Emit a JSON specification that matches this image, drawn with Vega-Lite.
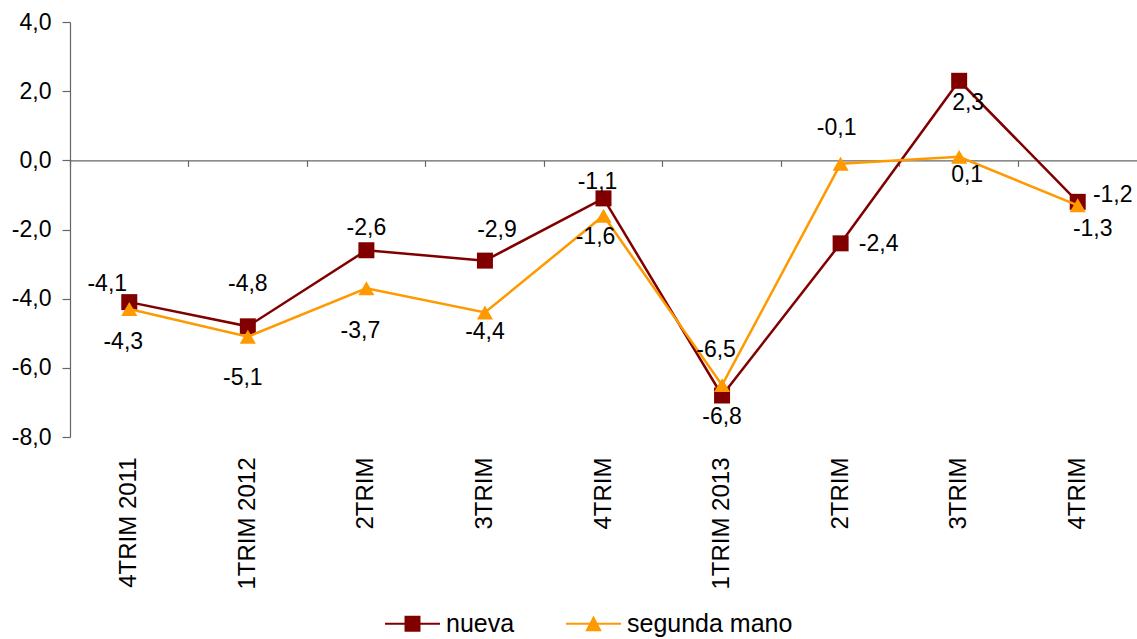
{
  "$schema": "https://vega.github.io/schema/vega-lite/v6.json",
  "width": 1067,
  "height": 415,
  "autosize": {"type": "none"},
  "padding": {"left": 70, "top": 22, "right": 0, "bottom": 202},
  "config": {
    "view": {"stroke": null},
    "font": "Liberation Sans",
    "locale": {"number": {"decimal": ",", "thousands": ".", "grouping": [3], "currency": ["", " €"], "minus": "-"}},
    "text": {"font": "Liberation Sans", "fontSize": 23, "baseline": "middle", "color": "#000000"}
  },
  "data": {
    "values": [
      {"q": "4TRIM 2011", "serie": "nueva", "v": -4.1},
      {"q": "1TRIM 2012", "serie": "nueva", "v": -4.8},
      {"q": "2TRIM 2012", "serie": "nueva", "v": -2.6},
      {"q": "3TRIM 2012", "serie": "nueva", "v": -2.9},
      {"q": "4TRIM 2012", "serie": "nueva", "v": -1.1},
      {"q": "1TRIM 2013", "serie": "nueva", "v": -6.8},
      {"q": "2TRIM 2013", "serie": "nueva", "v": -2.4},
      {"q": "3TRIM 2013", "serie": "nueva", "v": 2.3},
      {"q": "4TRIM 2013", "serie": "nueva", "v": -1.2},
      {"q": "4TRIM 2011", "serie": "segunda mano", "v": -4.3},
      {"q": "1TRIM 2012", "serie": "segunda mano", "v": -5.1},
      {"q": "2TRIM 2012", "serie": "segunda mano", "v": -3.7},
      {"q": "3TRIM 2012", "serie": "segunda mano", "v": -4.4},
      {"q": "4TRIM 2012", "serie": "segunda mano", "v": -1.6},
      {"q": "1TRIM 2013", "serie": "segunda mano", "v": -6.5},
      {"q": "2TRIM 2013", "serie": "segunda mano", "v": -0.1},
      {"q": "3TRIM 2013", "serie": "segunda mano", "v": 0.1},
      {"q": "4TRIM 2013", "serie": "segunda mano", "v": -1.3}
    ]
  },
  "encoding": {
    "x": {"field": "q", "type": "ordinal", "sort": null, "scale": {"type": "band", "paddingInner": 0, "paddingOuter": 0}, "axis": null},
    "y": {
      "field": "v", "type": "quantitative",
      "scale": {"domain": [-8, 4], "nice": false, "zero": false},
      "axis": {"title": null, "values": [-8, -6, -4, -2, 0, 2, 4], "format": ".1f", "grid": false,
               "domainColor": "#666666", "tickColor": "#666666", "tickSize": 8, "domainWidth": 1.2, "tickWidth": 1.2,
               "labelFontSize": 23, "labelColor": "#000000", "labelPadding": 11, "labelFont": "Liberation Sans"}
    }
  },
  "resolve": {"axis": {"x": "independent"}},
  "layer": [
    {
      "transform": [{"filter": "datum.serie === 'nueva'"}],
      "mark": {"type": "line", "strokeWidth": 2.5},
      "encoding": {
        "x": {"field": "q", "type": "ordinal", "sort": null, "scale": {"type": "band", "paddingInner": 0, "paddingOuter": 0},
              "axis": {"title": null, "orient": "bottom", "labels": false, "offset": -276.67, "bandPosition": 0, "domainColor": "#666666", "domainWidth": 1.2,
                       "ticks": true, "tickColor": "#666666", "tickSize": 6, "tickWidth": 1.2, "grid": false}},
        "color": {"field": "serie", "type": "nominal",
          "scale": {"domain": ["nueva", "segunda mano"], "range": ["#800000", "#FF9900"]},
          "legend": {"title": null, "orient": "none", "direction": "horizontal", "legendX": 315, "legendY": 574,
            "labelFontSize": 25, "labelColor": "#000000", "labelFont": "Liberation Sans", "labelLimit": 0,
            "symbolSize": 3025, "columnPadding": 51, "labelOffset": 6,
            "symbolType": "M-1,-0.04H1V0.04H-1Z M-0.29,-0.29H0.29V0.29H-0.29Z",
            "symbolStrokeWidth": 0, "symbolOpacity": 1,
            "encode": {"symbols": {"update": {
              "shape": {"signal": "datum.value === 'nueva' ? 'M-1,-0.04H1V0.04H-1Z M-0.29,-0.29H0.29V0.29H-0.29Z' : 'M-1,-0.04H1V0.04H-1Z M0,-0.3L0.3,0.27H-0.3Z'"},
              "fill": {"signal": "datum.value === 'nueva' ? '#800000' : '#FF9900'"},
              "fillOpacity": {"value": 1},
              "opacity": {"value": 1},
              "strokeWidth": {"value": 0}
            }}}}
        }
      }
    },
    {
      "transform": [{"filter": "datum.serie === 'nueva'"}],
      "mark": {"type": "point", "shape": "square", "filled": true, "opacity": 1, "size": 256, "color": "#800000"}
    },
    {
      "transform": [{"filter": "datum.serie === 'segunda mano'"}],
      "mark": {"type": "line", "strokeWidth": 2.5},
      "encoding": {
        "x": {"field": "q", "type": "ordinal", "sort": null, "scale": {"type": "band", "paddingInner": 0, "paddingOuter": 0},
              "axis": {"title": null, "orient": "bottom", "domain": false, "ticks": false, "grid": false, "labelAngle": -90, "labelFontSize": 24,
                       "labelColor": "#000000", "labelPadding": 20, "labelFont": "Liberation Sans",
                       "labelExpr": "indexof(['4TRIM 2011','1TRIM 2012','1TRIM 2013'], datum.value) >= 0 ? datum.value : slice(datum.value, 0, 5)"}},
        "color": {"field": "serie", "type": "nominal"}
      }
    },
    {
      "transform": [{"filter": "datum.serie === 'segunda mano'"}],
      "mark": {"type": "point", "shape": "triangle-up", "filled": true, "opacity": 1, "size": 260, "color": "#FF9900"}
    },
    {"transform": [{"filter": "datum.serie === 'nueva' && datum.q === '4TRIM 2011'"}], "mark": {"type": "text", "dx": -22, "dy": -18}, "encoding": {"text": {"field": "v", "type": "quantitative", "format": ".1f"}}},
    {"transform": [{"filter": "datum.serie === 'nueva' && datum.q === '1TRIM 2012'"}], "mark": {"type": "text", "dx": 0, "dy": -42}, "encoding": {"text": {"field": "v", "type": "quantitative", "format": ".1f"}}},
    {"transform": [{"filter": "datum.serie === 'nueva' && datum.q === '2TRIM 2012'"}], "mark": {"type": "text", "dx": 0, "dy": -22}, "encoding": {"text": {"field": "v", "type": "quantitative", "format": ".1f"}}},
    {"transform": [{"filter": "datum.serie === 'nueva' && datum.q === '3TRIM 2012'"}], "mark": {"type": "text", "dx": 12, "dy": -31}, "encoding": {"text": {"field": "v", "type": "quantitative", "format": ".1f"}}},
    {"transform": [{"filter": "datum.serie === 'nueva' && datum.q === '4TRIM 2012'"}], "mark": {"type": "text", "dx": -6, "dy": -16}, "encoding": {"text": {"field": "v", "type": "quantitative", "format": ".1f"}}},
    {"transform": [{"filter": "datum.serie === 'nueva' && datum.q === '1TRIM 2013'"}], "mark": {"type": "text", "dx": 0, "dy": 21}, "encoding": {"text": {"field": "v", "type": "quantitative", "format": ".1f"}}},
    {"transform": [{"filter": "datum.serie === 'nueva' && datum.q === '2TRIM 2013'"}], "mark": {"type": "text", "dx": 38, "dy": 1}, "encoding": {"text": {"field": "v", "type": "quantitative", "format": ".1f"}}},
    {"transform": [{"filter": "datum.serie === 'nueva' && datum.q === '3TRIM 2013'"}], "mark": {"type": "text", "dx": 9, "dy": 22}, "encoding": {"text": {"field": "v", "type": "quantitative", "format": ".1f"}}},
    {"transform": [{"filter": "datum.serie === 'nueva' && datum.q === '4TRIM 2013'"}], "mark": {"type": "text", "dx": 35, "dy": -7}, "encoding": {"text": {"field": "v", "type": "quantitative", "format": ".1f"}}},
    {"transform": [{"filter": "datum.serie === 'segunda mano' && datum.q === '4TRIM 2011'"}], "mark": {"type": "text", "dx": -6, "dy": 33}, "encoding": {"text": {"field": "v", "type": "quantitative", "format": ".1f"}}},
    {"transform": [{"filter": "datum.serie === 'segunda mano' && datum.q === '1TRIM 2012'"}], "mark": {"type": "text", "dx": -5, "dy": 41}, "encoding": {"text": {"field": "v", "type": "quantitative", "format": ".1f"}}},
    {"transform": [{"filter": "datum.serie === 'segunda mano' && datum.q === '2TRIM 2012'"}], "mark": {"type": "text", "dx": -6, "dy": 43}, "encoding": {"text": {"field": "v", "type": "quantitative", "format": ".1f"}}},
    {"transform": [{"filter": "datum.serie === 'segunda mano' && datum.q === '3TRIM 2012'"}], "mark": {"type": "text", "dx": 0, "dy": 19}, "encoding": {"text": {"field": "v", "type": "quantitative", "format": ".1f"}}},
    {"transform": [{"filter": "datum.serie === 'segunda mano' && datum.q === '4TRIM 2012'"}], "mark": {"type": "text", "dx": -8, "dy": 21}, "encoding": {"text": {"field": "v", "type": "quantitative", "format": ".1f"}}},
    {"transform": [{"filter": "datum.serie === 'segunda mano' && datum.q === '1TRIM 2013'"}], "mark": {"type": "text", "dx": -6, "dy": -35}, "encoding": {"text": {"field": "v", "type": "quantitative", "format": ".1f"}}},
    {"transform": [{"filter": "datum.serie === 'segunda mano' && datum.q === '2TRIM 2013'"}], "mark": {"type": "text", "dx": -4, "dy": -36}, "encoding": {"text": {"field": "v", "type": "quantitative", "format": ".1f"}}},
    {"transform": [{"filter": "datum.serie === 'segunda mano' && datum.q === '3TRIM 2013'"}], "mark": {"type": "text", "dx": 8, "dy": 18}, "encoding": {"text": {"field": "v", "type": "quantitative", "format": ".1f"}}},
    {"transform": [{"filter": "datum.serie === 'segunda mano' && datum.q === '4TRIM 2013'"}], "mark": {"type": "text", "dx": 15, "dy": 24}, "encoding": {"text": {"field": "v", "type": "quantitative", "format": ".1f"}}}
  ]
}
